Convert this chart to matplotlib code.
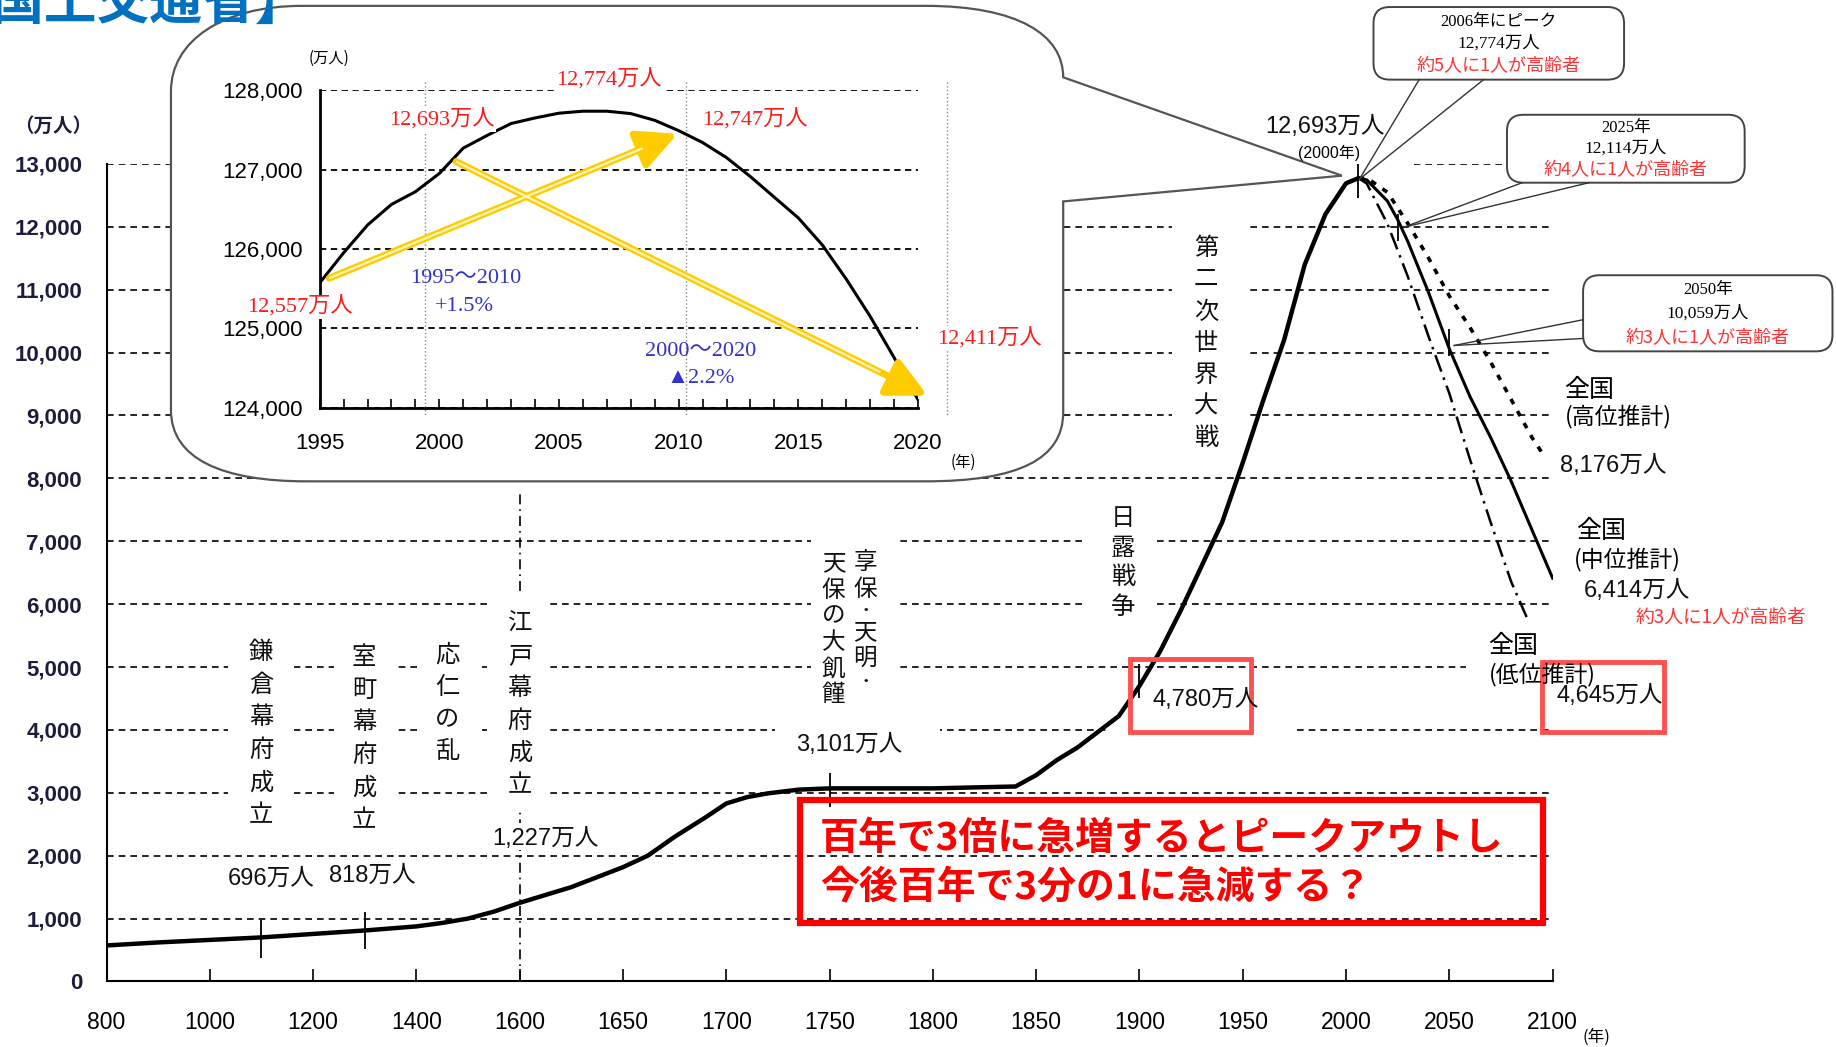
import numpy as np
import matplotlib
matplotlib.use('Agg')
import matplotlib.pyplot as plt
from matplotlib.path import Path
from matplotlib.patches import PathPatch, FancyBboxPatch, Rectangle

plt.rcParams['font.family'] = ['Noto Sans CJK JP', 'DejaVu Sans']

SANS = ['Liberation Sans', 'Noto Sans CJK JP']
SERIF = ['Liberation Serif', 'Noto Sans CJK JP']
CJK = ['Noto Sans CJK JP', 'DejaVu Sans']

# 総人口の推移（万人）
hist_years = [800, 900, 1000, 1100, 1200, 1300, 1400, 1450, 1500, 1550, 1600,
              1625, 1650, 1662, 1675, 1690, 1700, 1710, 1720, 1735, 1750, 1800,
              1840, 1850, 1860, 1870, 1880, 1890, 1900, 1910, 1920, 1930, 1940,
              1950, 1960, 1970, 1980, 1990, 2000, 2006]
hist_pop = [572, 620, 660, 700, 755, 810, 875, 930, 1000, 1110, 1250,
            1500, 1817, 2000, 2300, 2610, 2830, 2930, 2990, 3050, 3070, 3070,
            3100, 3280, 3520, 3720, 3970, 4220, 4700, 5250, 5900, 6600, 7300,
            8250, 9250, 10200, 11400, 12200, 12693, 12774]

# 将来推計（中位・高位・低位）
mid_years = [2006, 2010, 2020, 2025, 2030, 2040, 2050, 2060, 2070, 2080, 2090, 2100]
mid_pop = [12774, 12747, 12411, 12114, 11758, 10950, 10059, 9300, 8650, 7950, 7180, 6414]
high_years = [2006, 2010, 2020, 2030, 2040, 2050, 2060, 2070, 2080, 2090, 2095]
high_pop = [12774, 12780, 12550, 12050, 11500, 10900, 10400, 9850, 9250, 8650, 8400]
low_years = [2006, 2010, 2020, 2030, 2040, 2050, 2060, 2070, 2080, 2088]
low_pop = [12774, 12690, 12050, 11200, 10250, 9350, 8300, 7300, 6350, 5750]

# 曲線上の目盛り線
mark_years = [1100, 1300, 1750, 1900, 2006, 2025, 2050]
mark_lo = [370, 520, 2770, 4500, 12460, 11780, 9950]
mark_hi = [970, 1100, 3320, 5050, 13050, 12200, 10380]

x_ticks = [800, 1000, 1200, 1400, 1600, 1650, 1700, 1750, 1800, 1850, 1900,
           1950, 2000, 2050, 2100]
y_ticks = list(range(0, 14000, 1000))

# 拡大図（千人）
inset_years = list(range(1995, 2021))
inset_pop = [125570, 125950, 126300, 126560, 126720, 126950, 127270, 127430,
             127580, 127650, 127710, 127735, 127735, 127705, 127620, 127490,
             127340, 127150, 126910, 126650, 126390, 126050, 125620, 125150,
             124630, 124100]
arrow_up = [(1995.4, 125630), (2009.95, 127450)]
arrow_down = [(2000.7, 127100), (2020.4, 124150)]

W, H = 1836, 1047
SW, SH = 1568, 894


def rect(x0, y0, x1, y1):
    return [x0 / SW, 1 - y1 / SH, (x1 - x0) / SW, (y1 - y0) / SH]


fig = plt.figure(figsize=(W / 100, H / 100), dpi=100)

# ---- 本体
ax = fig.add_axes(rect(91, 140, 1326, 838))
idx = np.arange(len(x_ticks))
ax.set_xscale('function', functions=(lambda v: np.interp(v, x_ticks, idx),
                                     lambda u: np.interp(u, idx, x_ticks)))
ax.set_xlim(800, 2100)
ax.set_ylim(0, 13000)
ax.set_xticks(x_ticks)
ax.set_xticklabels([str(v) for v in x_ticks], family=SANS, fontsize=16.5)
ax.set_yticks(y_ticks)
ax.set_yticklabels(['{:,}'.format(v) for v in y_ticks], family=SANS,
                   fontsize=16, fontweight='bold', color='#1c1c3c')
ax.tick_params(axis='x', direction='in', length=8.5, width=1.2, pad=21)
ax.tick_params(axis='y', length=0, pad=17.5)
ax.spines['top'].set_visible(False)
ax.spines['right'].set_visible(False)
for s in ['left', 'bottom']:
    ax.spines[s].set_linewidth(1.5)
ax.set_axisbelow(True)
ax.yaxis.grid(True, color='black', lw=1.2, linestyle=(0, (4, 3)))

ax.plot(hist_years, hist_pop, color='black', lw=3.2, zorder=4,
        solid_capstyle='round', solid_joinstyle='round')
ax.plot(mid_years, mid_pop, color='black', lw=2.2, zorder=4)
ax.plot(high_years, high_pop, color='black', lw=2.6, zorder=4,
        linestyle=(0, (1.6, 2.2)))
ax.plot(low_years, low_pop, color='black', lw=1.8, zorder=4,
        linestyle=(0, (7, 2.5, 1, 2.5)))
ax.vlines(mark_years, mark_lo, mark_hi, color='black', lw=1.3, zorder=5)
ax.vlines([1600], [0], [7800], color='black', lw=1.2, zorder=1,
          linestyles=[(0, (6, 3, 1, 3))])

# ---- 背景の吹き出し
back = fig.add_axes([0, 0, 1, 1], zorder=5)
top = fig.add_axes([0, 0, 1, 1], zorder=20)
for o in (back, top):
    o.set_xlim(0, SW)
    o.set_ylim(SH, 0)
    o.axis('off')
    o.set_facecolor('none')

# 文字の後ろで点線を途切れさせる白地
gaps = [(195, 540, 251, 712), (285, 543, 340, 715), (356, 545, 412, 662),
        (418, 508, 470, 690), (418, 703, 515, 726), (662, 615, 803, 650),
        (693, 455, 769, 605), (928, 425, 985, 545), (948, 580, 1103, 640),
        (1001, 188, 1065, 395), (1059, 95, 1208, 142), (1252, 538, 1330, 590)]
for x0, y0, x1, y1 in gaps:
    ax.add_patch(Rectangle((x0, y0), x1 - x0, y1 - y0, facecolor='white',
                           edgecolor='none', transform=top.transData, zorder=1.5))

M, C, L = Path.MOVETO, Path.CURVE4, Path.LINETO
verts = [(146, 78), (146, 35), (190, 5), (258, 5), (790, 5),
         (870, 5), (908, 30), (908, 66), (1146, 150), (908, 172), (908, 352),
         (908, 392), (870, 411), (790, 411), (262, 411),
         (190, 411), (146, 392), (146, 350), (146, 78)]
codes = [M, C, C, C, L, C, C, C, L, L, L, C, C, C, L, C, C, C, L]
back.add_patch(PathPatch(Path(verts, codes), facecolor='white',
                         edgecolor='#555555', lw=1.6))

# ---- 拡大図
ins = fig.add_axes(rect(273, 77, 784, 348), zorder=10)
ins.set_xlim(1995, 2020)
ins.set_ylim(124000, 128000)
ins.set_xticks(range(1995, 2021, 5))
ins.set_xticks(inset_years, minor=True)
ins.set_xticklabels([str(v) for v in range(1995, 2021, 5)], family=SANS, fontsize=16)
ins.set_yticks(range(124000, 128001, 1000))
ins.set_yticklabels(['{:,}'.format(v) for v in range(124000, 128001, 1000)],
                    family=SANS, fontsize=16)
ins.tick_params(axis='x', which='both', direction='in', length=6.7, width=1.2, pad=18)
ins.tick_params(axis='y', length=0, pad=12.5)
ins.spines['top'].set_visible(False)
ins.spines['right'].set_visible(False)
for s in ['left', 'bottom']:
    ins.spines[s].set_linewidth(2)
ins.set_axisbelow(True)
ins.yaxis.grid(True, color='black', lw=1.3, linestyle=(0, (3.5, 2.5)))
for vx in [1999.4, 2010.3, 2021.2]:
    ins.plot([vx, vx], [128100, 123900], color='#888888', lw=1, linestyle=':',
             clip_on=False, zorder=1)
ins.plot(inset_years, inset_pop, color='black', lw=2.2, zorder=3)

for (x0, y0), (x1, y1) in [arrow_up, arrow_down]:
    ins.annotate('', xy=(x1, y1), xytext=(x0, y0), zorder=4, annotation_clip=False,
                 arrowprops=dict(arrowstyle='-|>,head_length=2.4,head_width=1.2',
                                 lw=5, color='#FFCC00', shrinkA=0, shrinkB=0))
    fx = x0 + (x1 - x0) * 0.9
    fy = y0 + (y1 - y0) * 0.9
    ins.plot([x0, fx], [y0, fy], color='#FFF4C0', lw=1.6, zorder=5,
             solid_capstyle='butt', clip_on=False)

# ---- 文字
top.text(-8, 16, '国土交通省】', fontsize=38, fontweight='bold', color='#0070C0',
         va='baseline', ha='left')
top.text(45, 108, '（万人）', fontsize=14, fontweight='bold', color='#1c1c3c',
         ha='center', va='center')
top.text(1363, 886, '(年)', fontsize=12, ha='center', va='center')

# 拡大図の注記
top.text(281, 50, '(万人)', fontsize=11, ha='center', va='center')
top.text(823, 395, '(年)', fontsize=11, ha='center', va='center')
red = '#FF1A1A'
for x, y, s in [(520, 68, '12,774万人'), (377, 102, '12,693万人'),
                (645, 102, '12,747万人'), (256, 262, '12,557万人'),
                (845, 289, '12,411万人')]:
    top.text(x, y, s, fontsize=16, color=red, family=SERIF, ha='center',
             va='center', bbox=dict(facecolor='white', edgecolor='none', pad=1))
blue = '#3333CC'
for x, y, s in [(398, 238, '1995〜2010'), (397, 262, '+1.5%'),
                (598, 300, '2000〜2020'), (598, 323, '▲2.2%')]:
    top.text(x, y, s, fontsize=16, color=blue, family=SERIF, ha='center', va='center')


def vcol(x, chars, ys, size=17.5):
    for ch, y in zip(chars, ys):
        sz = size * 0.7 if ch == '・' else size
        top.text(x, y, ch, fontsize=sz, ha='center', va='center', color='#111111')


def even(y0, pitch, n):
    return [y0 + i * pitch for i in range(n)]


vcol(223, '鎌倉幕府成立', even(557, 27.8, 6))
vcol(311, '室町幕府成立', even(561, 27.8, 6))
vcol(382, '応仁の乱', even(559, 27.5, 4))
vcol(444, '江戸幕府成立', even(533, 27.4, 6))
vcol(739, '享保・天明・', [480, 503, 521, 540, 562, 582], size=17)
vcol(712, '天保の大飢饉', [481, 504, 526, 549, 571, 593], size=17)
vcol(959, '日露戦争', even(442, 25.5, 4))
vcol(1030, '第二次世界大戦', even(212, 27, 7))

lab = dict(fontsize=17, family=SANS, ha='center', va='center', color='#111111')
top.text(232, 750, '696万人', **lab)
top.text(318, 748, '818万人', **lab)
top.text(466, 716, '1,227万人', **lab)
top.text(725, 636, '3,101万人', **lab)
top.text(1030, 598, '4,780万人', **lab)
top.text(1375, 594, '4,645万人', **lab)
top.text(1132, 108, '12,693万人', **lab)
top.text(1135, 131, '(2000年)', fontsize=11.5, family=SANS, ha='center', va='center')
top.text(1378, 398, '8,176万人', **lab)
top.text(1398, 505, '6,414万人', **lab)
top.text(1357, 333, '全国', fontsize=18, ha='center', va='center')
top.text(1382, 356, '(高位推計)', fontsize=16.5, ha='center', va='center')
top.text(1367, 453, '全国', fontsize=18, ha='center', va='center')
top.text(1390, 478, '(中位推計)', fontsize=16.5, ha='center', va='center')
top.text(1292, 552, '全国', fontsize=18, ha='center', va='center')
top.text(1317, 576, '(低位推計)', fontsize=16.5, ha='center', va='center')
top.text(1470, 527, '約3人に1人が高齢者', fontsize=13.5, color='#FF3333',
         ha='center', va='center')

for x0, y0, x1, y1 in [(965, 563, 1068, 625), (1317, 565, 1421, 625)]:
    top.add_patch(Rectangle((x0, y0), x1 - x0, y1 - y0, facecolor='none',
                            edgecolor='#FF5050', lw=3.5))

top.add_patch(Rectangle((683, 683), 635, 105, facecolor='none',
                        edgecolor='#FF0000', lw=4.5))
top.text(700, 716, '百年で3倍に急増するとピークアウトし', fontsize=28,
         fontweight='bold', color='#FF0000', ha='left', va='center')
top.text(700, 758, '今後百年で3分の1に急減する？', fontsize=28,
         fontweight='bold', color='#FF0000', ha='left', va='center')

# 吹き出し（右上）
bubbles = [((1173, 6, 1387, 68), ['2006年にピーク', '12,774万人', '約5人に1人が高齢者'],
            [(1212, 68), (1267, 68)], (1161, 153)),
           ((1287, 98, 1490, 156), ['2025年', '12,114万人', '約4人に1人が高齢者'],
            [(1300, 156), (1357, 156)], (1199, 194)),
           ((1352, 235, 1565, 300), ['2050年', '10,059万人', '約3人に1人が高齢者'],
            [(1352, 273), (1352, 289)], (1242, 295))]
for (x0, y0, x1, y1), lines, starts, tip in bubbles:
    for sx, sy in starts:
        top.plot([sx, tip[0]], [sy, tip[1]], color='#333333', lw=1)
    top.add_patch(FancyBboxPatch((x0, y0), x1 - x0, y1 - y0,
                                 boxstyle='round,pad=0,rounding_size=14',
                                 facecolor='white', edgecolor='#444444', lw=1.4))
    cx = (x0 + x1) / 2
    h = (y1 - y0)
    top.text(cx, y0 + h * 0.2, lines[0], fontsize=12, family=SERIF, ha='center', va='center')
    top.text(cx, y0 + h * 0.5, lines[1], fontsize=12.5, family=SERIF, ha='center', va='center')
    top.text(cx, y0 + h * 0.82, lines[2], fontsize=13, color='#FF3333',
             ha='center', va='center')

fig.savefig('out.png', dpi=100)
